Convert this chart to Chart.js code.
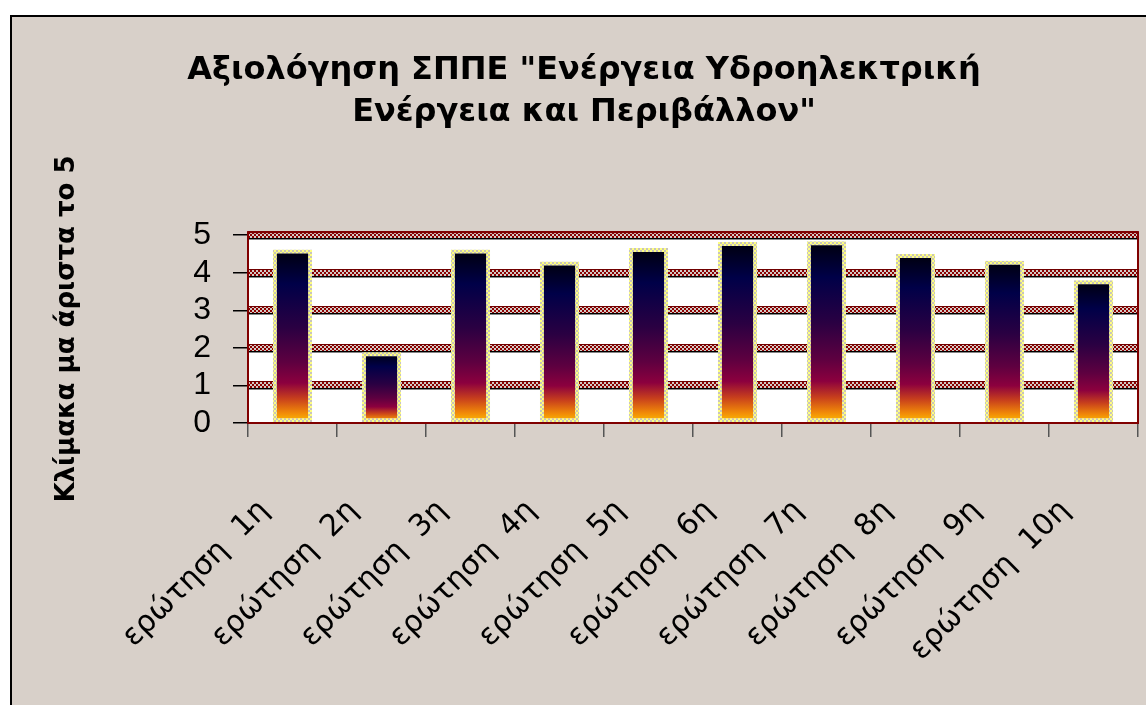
<!DOCTYPE html>
<html>
<head>
<meta charset="utf-8">
<script src="https://cdn.jsdelivr.net/npm/chart.js@4"></script>
<style>
  html, body { margin: 0; padding: 0; background: #fff; width: 1146px; height: 705px; overflow: hidden; }
  #frame { position: absolute; left: 10px; top: 15px; width: 1200px; height: 760px;
           border: 2px solid #000; background: #d8d0c9; }
  #chart { position: absolute; left: 0; top: 0; }
</style>
</head>
<body>
<div id="frame"></div>
<canvas id="chart" width="1146" height="705"></canvas>
<script>
const categories = ["ερώτηση  1η", "ερώτηση  2η", "ερώτηση  3η", "ερώτηση  4η", "ερώτηση  5η",
                    "ερώτηση  6η", "ερώτηση  7η", "ερώτηση  8η", "ερώτηση  9η", "ερώτηση  10η"];
const scores = [4.62, 1.88, 4.62, 4.3, 4.66, 4.82, 4.84, 4.5, 4.32, 3.8];
const yTicks = [0, 1, 2, 3, 4, 5];
const titleLines = ['Αξιολόγηση ΣΠΠΕ "Ενέργεια Υδροηλεκτρική', 'Ενέργεια και Περιβάλλον"'];
const yTitle = "Κλίμακα μα άριστα το 5";

// small checker patterns
function checker(c1, c2, cell) {
  const cv = document.createElement("canvas");
  cv.width = cell * 2; cv.height = cell * 2;
  const g = cv.getContext("2d");
  g.fillStyle = c1; g.fillRect(0, 0, cell * 2, cell * 2);
  g.fillStyle = c2; g.fillRect(0, 0, cell, cell); g.fillRect(cell, cell, cell, cell);
  return g.createPattern(cv, "repeat");
}
const ctx = document.getElementById("chart").getContext("2d");
const gridPattern = checker("#d2cbc6", "#8b0000", 2);
const borderPattern = checker("#c8c4bc", "#ffff80", 2);

// plot area: white background, checkered grid bands, red frame
const plotDeco = {
  id: "plotDeco",
  beforeDatasetsDraw(chart) {
    const { ctx, chartArea: a, scales: { y } } = chart;
    ctx.save();
    ctx.fillStyle = "#fff";
    ctx.fillRect(a.left, a.top, a.right - a.left, a.bottom - a.top);
    y.ticks.forEach(t => {
      if (t.value === 0) return;
      const py = Math.round(y.getPixelForValue(t.value));
      ctx.fillStyle = gridPattern;
      ctx.fillRect(a.left, py - 3, a.right - a.left, 6);
      ctx.fillStyle = "#700000";
      ctx.fillRect(a.left, py - 4, a.right - a.left, 1);
      ctx.fillStyle = "#000";
      ctx.fillRect(a.left, py + 3, a.right - a.left, 1);
      ctx.fillStyle = "#888";
      ctx.fillRect(a.left, py + 4, a.right - a.left, 1);
    });
    ctx.restore();
  },
  afterDatasetsDraw(chart) {
    const { ctx, chartArea: a } = chart;
    ctx.save();
    ctx.strokeStyle = "#800000";
    ctx.lineWidth = 2;
    ctx.strokeRect(a.left, a.top - 3, a.right - a.left, a.bottom - a.top + 3);
    ctx.restore();
  }
};

function barGradient(c) {
  const chart = c.chart;
  const y = chart.scales.y;
  if (c.type !== "data" || !y) return "#000040";
  const top = y.getPixelForValue(c.raw);
  const bottom = y.getPixelForValue(0);
  if (!isFinite(top) || !isFinite(bottom) || top === bottom) return "#000040";
  const g = chart.ctx.createLinearGradient(0, top, 0, bottom);
  g.addColorStop(0, "#00000c");
  g.addColorStop(0.2, "#000048");
  g.addColorStop(0.45, "#2a0042");
  g.addColorStop(0.65, "#5e0040");
  g.addColorStop(0.77, "#8c003e");
  g.addColorStop(0.86, "#c8401c");
  g.addColorStop(0.94, "#f08808");
  g.addColorStop(1, "#ffc400");
  return g;
}

new Chart(ctx, {
  type: "bar",
  data: {
    labels: categories,
    datasets: [{
      data: scores,
      backgroundColor: barGradient,
      borderColor: borderPattern,
      borderWidth: 4,
      borderSkipped: false,
      categoryPercentage: 1,
      barPercentage: 0.44
    }]
  },
  options: {
    responsive: false,
    animation: false,
    events: [],
    layout: { padding: { left: 30, right: 8, top: 0, bottom: 0 } },
    plugins: {
      legend: { display: false },
      tooltip: { enabled: false },
      title: {
        display: true,
        text: titleLines,
        color: "#000",
        font: { family: "DejaVu Sans, sans-serif", size: 32, weight: "bold", lineHeight: 1.33 },
        padding: { top: 49, bottom: 101 }
      }
    },
    scales: {
      x: {
        afterFit(s) { s.height = 282; s.paddingLeft = 0; s.paddingRight = 0; },
        border: { display: false },
        grid: { drawOnChartArea: false, drawTicks: true, tickLength: 14, color: "#555", lineWidth: 1.5 },
        ticks: {
          autoSkip: false, minRotation: 45, maxRotation: 45,
          color: "#000", padding: 56, labelOffset: -28,
          font: { family: "DejaVu Sans, sans-serif", size: 30, weight: "500" }
        }
      },
      y: {
        min: 0, max: 5,
        afterFit(s) { s.width = 218; s.paddingTop = 0; s.paddingBottom = 0; },
        afterBuildTicks(s) { s.ticks = yTicks.map(v => ({ value: v })); },
        border: { display: false },
        grid: { drawOnChartArea: false, drawTicks: true, tickLength: 15, color: "#000", lineWidth: 1.5 },
        ticks: {
          autoSkip: false, stepSize: 1,
          color: "#000", padding: 22,
          font: { family: "Liberation Sans, Arial, sans-serif", size: 32 }
        },
        title: {
          display: true, text: yTitle, color: "#000",
          font: { family: "DejaVu Sans, sans-serif", size: 26, weight: "bold", lineHeight: 1.2 },
          padding: { top: 22, bottom: 0 }
        }
      }
    }
  },
  plugins: [plotDeco]
});
</script>
</body>
</html>
